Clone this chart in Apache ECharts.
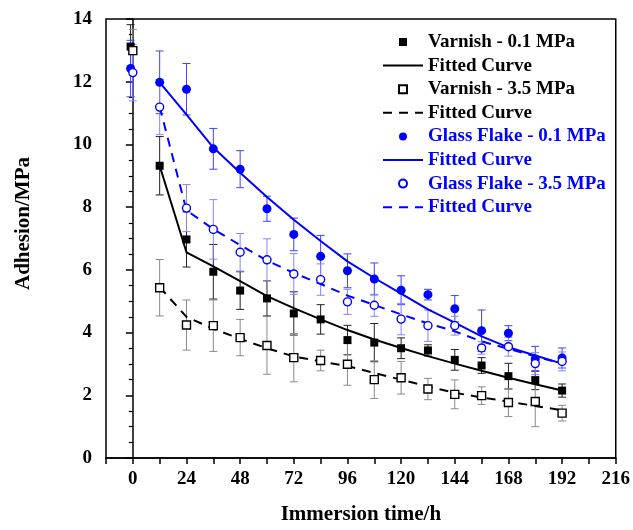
<!DOCTYPE html>
<html>
<head>
<meta charset="utf-8">
<script src="https://cdn.jsdelivr.net/npm/echarts@6/dist/echarts.min.js"></script>
<style>
  html, body { margin: 0; padding: 0; background: #fff; }
  #chart { width: 633px; height: 530px; }
</style>
</head>
<body>
<div id="chart"></div>
<script>
// measured points (0.1 MPa sets sit slightly left of the 3.5 MPa sets at t=0)
const hours01 = [-1, 12, 24, 36, 48, 60, 72, 84, 96, 108, 120, 132, 144, 156, 168, 180, 192]
const hours35 = [0, 12, 24, 36, 48, 60, 72, 84, 96, 108, 120, 132, 144, 156, 168, 180, 192]
const fitHours = [12, 24, 36, 48, 60, 72, 84, 96, 108, 120, 132, 144, 156, 168, 180, 192]

const varnish01 = [13.12, 9.32, 6.97, 5.94, 5.34, 5.09, 4.61, 4.42, 3.76, 3.68, 3.50, 3.43, 3.13, 2.95, 2.61, 2.48, 2.15]
const varnish01Err = [0.7, 0.93, 0.88, 0.87, 0.6, 0.56, 0.69, 0.47, 0.47, 0.61, 0.33, 0.18, 0.33, 0.25, 0.41, 0.3, 0.21]
const varnish35 = [12.99, 5.43, 4.24, 4.22, 3.84, 3.59, 3.2, 3.11, 2.99, 2.50, 2.56, 2.20, 2.03, 1.99, 1.77, 1.80, 1.43]
const varnish35Err = [0.68, 0.9, 0.8, 0.82, 0.58, 0.92, 0.77, 0.33, 0.67, 0.6, 0.52, 0.34, 0.46, 0.28, 0.45, 0.8, 0.25]
const glass01 = [12.42, 11.98, 11.76, 9.86, 9.21, 7.95, 7.13, 6.43, 5.97, 5.71, 5.35, 5.21, 4.76, 4.06, 3.98, 3.16, 3.19]
const glass01Err = [0.9, 1.0, 0.82, 0.65, 0.59, 0.4, 0.52, 0.67, 0.54, 0.51, 0.46, 0.17, 0.42, 0.66, 0.24, 0.4, 0.32]
const glass35 = [12.29, 11.19, 7.97, 7.29, 6.56, 6.32, 5.87, 5.69, 4.98, 4.87, 4.43, 4.22, 4.22, 3.51, 3.55, 3.01, 3.08]
const glass35Err = [0.9, 0.88, 0.75, 0.95, 0.6, 0.67, 0.65, 0.5, 0.4, 0.35, 0.5, 0.5, 0.3, 0.2, 0.3, 0.35, 0.3]

// fitted curves
const varnish01Fit = [9.32, 6.56, 6.11, 5.64, 5.16, 4.78, 4.42, 4.08, 3.78, 3.51, 3.25, 3.01, 2.78, 2.56, 2.35, 2.15]
const varnish35Fit = [5.45, 4.5, 4.12, 3.8, 3.5, 3.24, 3.08, 2.93, 2.71, 2.5, 2.28, 2.08, 1.93, 1.8, 1.66, 1.52]
const glass01Fit = [11.98, 10.95, 9.9, 9.1, 8.32, 7.6, 6.92, 6.27, 5.74, 5.24, 4.74, 4.32, 3.88, 3.53, 3.27, 3.01]
const glass35Fit = [11.2, 7.9, 7.3, 6.79, 6.3, 5.9, 5.55, 5.18, 4.88, 4.58, 4.29, 4.04, 3.72, 3.48, 3.24, 3.01]

const xTicks = [0, 24, 48, 72, 96, 120, 144, 168, 192, 216]

const FONT = "'Liberation Serif', 'Times New Roman', serif"
const BLUE = '#0000ff'
const SQUARE = 'path://M0 0H10V10H0Z'

const zip = (xs, ys) => xs.map((x, i) => [x, ys[i]])

function errorBars (xs, ys, es, color) {
  return {
    type: 'custom',
    silent: true,
    z: 1,
    data: xs.map((x, i) => [x, ys[i] - es[i], ys[i] + es[i]]),
    encode: { x: 0, y: [1, 2] },
    renderItem: function (params, api) {
      const lo = api.coord([api.value(0), api.value(1)])
      const hi = api.coord([api.value(0), api.value(2)])
      const w = 4
      const style = { stroke: color, lineWidth: 1 }
      return {
        type: 'group',
        children: [
          { type: 'line', shape: { x1: lo[0], y1: lo[1], x2: hi[0], y2: hi[1] }, style: style },
          { type: 'line', shape: { x1: lo[0] - w, y1: lo[1], x2: lo[0] + w, y2: lo[1] }, style: style },
          { type: 'line', shape: { x1: hi[0] - w, y1: hi[1], x2: hi[0] + w, y2: hi[1] }, style: style }
        ]
      }
    }
  }
}

// hollow marks: white fill with coloured border
function points (name, xs, ys, symbol, color, size, hollow) {
  return {
    name: name,
    type: 'scatter',
    symbol: symbol,
    symbolSize: size,
    z: 4,
    itemStyle: hollow
      ? { color: '#fff', borderColor: color, borderWidth: 1.4, opacity: 1 }
      : { color: color, opacity: 1 },
    data: zip(xs, ys)
  }
}

function fit (name, ys, color, dashed) {
  return {
    name: name,
    type: 'line',
    symbol: 'none',
    z: 3,
    lineStyle: { color: color, width: 2, type: dashed ? [9, 7] : 'solid' },
    itemStyle: { color: color },
    data: zip(fitHours, ys)
  }
}

const noDot = { color: 'rgba(0,0,0,0)', borderColor: 'rgba(0,0,0,0)', borderWidth: 0, opacity: 0 }

const chart = echarts.init(document.getElementById('chart'))
chart.setOption({
  animation: false,
  textStyle: { fontFamily: FONT },
  grid: { left: 106, right: 17, top: 19, bottom: 68, show: true, borderColor: '#000', borderWidth: 1.5 },
  legend: {
    orient: 'vertical',
    left: 382,
    top: 32,
    padding: 0,
    itemWidth: 40,
    itemHeight: 8,
    itemGap: 3.6,
    selectedMode: false,
    textStyle: { fontFamily: FONT, fontWeight: 'bold', fontSize: 19, lineHeight: 20 },
    formatter: function (name) { return name.indexOf('fit') === 0 ? 'Fitted Curve' : name },
    data: [
      { name: 'Varnish - 0.1 MPa', textStyle: { color: '#000' } },
      { name: 'fit1', textStyle: { color: '#000' }, itemStyle: noDot },
      { name: 'Varnish - 3.5 MPa', textStyle: { color: '#000' } },
      { name: 'fit2', textStyle: { color: '#000' }, itemStyle: noDot },
      { name: 'Glass Flake - 0.1 MPa', textStyle: { color: BLUE } },
      { name: 'fit3', textStyle: { color: BLUE }, itemStyle: noDot },
      { name: 'Glass Flake - 3.5 MPa', textStyle: { color: BLUE } },
      { name: 'fit4', textStyle: { color: BLUE }, itemStyle: noDot }
    ]
  },
  xAxis: {
    type: 'value',
    min: -12,
    max: 216,
    interval: 12,
    name: 'Immersion time/h',
    nameLocation: 'middle',
    nameGap: 46,
    nameTextStyle: { fontFamily: FONT, fontWeight: 'bold', fontSize: 21, color: '#000' },
    axisLine: { lineStyle: { color: '#000', width: 1.5 } },
    axisTick: { length: 6, lineStyle: { color: '#000', width: 1.5 } },
    axisLabel: {
      margin: 12,
      fontFamily: FONT, fontWeight: 'bold', fontSize: 19, color: '#000',
      formatter: function (v) { return xTicks.indexOf(v) >= 0 ? String(v) : '' }
    },
    splitLine: { show: false }
  },
  yAxis: {
    type: 'value',
    min: 0,
    max: 14,
    interval: 2,
    name: 'Adhesion/MPa',
    nameLocation: 'middle',
    nameGap: 72,
    nameTextStyle: { fontFamily: FONT, fontWeight: 'bold', fontSize: 21, color: '#000', padding: [0, 0, 0, 30] },
    axisLine: { show: true, lineStyle: { color: '#000', width: 1.5 } },
    axisTick: { length: 7, lineStyle: { color: '#000', width: 1.5 } },
    minorTick: { show: true, splitNumber: 4, length: 4, lineStyle: { color: '#000', width: 1.2 } },
    axisLabel: { margin: 14, fontFamily: FONT, fontWeight: 'bold', fontSize: 19, color: '#000' },
    splitLine: { show: false }
  },
  series: [
    errorBars(hours01, varnish01, varnish01Err, '#222'),
    errorBars(hours35, varnish35, varnish35Err, '#8a8a8a'),
    errorBars(hours01, glass01, glass01Err, '#4040ff'),
    errorBars(hours35, glass35, glass35Err, '#8585ff'),
    points('Varnish - 0.1 MPa', hours01, varnish01, SQUARE, '#000', 8, false),
    fit('fit1', varnish01Fit, '#000', false),
    points('Varnish - 3.5 MPa', hours35, varnish35, SQUARE, '#000', 8, true),
    fit('fit2', varnish35Fit, '#000', true),
    points('Glass Flake - 0.1 MPa', hours01, glass01, 'circle', BLUE, 9, false),
    fit('fit3', glass01Fit, BLUE, false),
    points('Glass Flake - 3.5 MPa', hours35, glass35, 'circle', BLUE, 8, true),
    fit('fit4', glass35Fit, BLUE, true)
  ]
})
</script>
</body>
</html>
